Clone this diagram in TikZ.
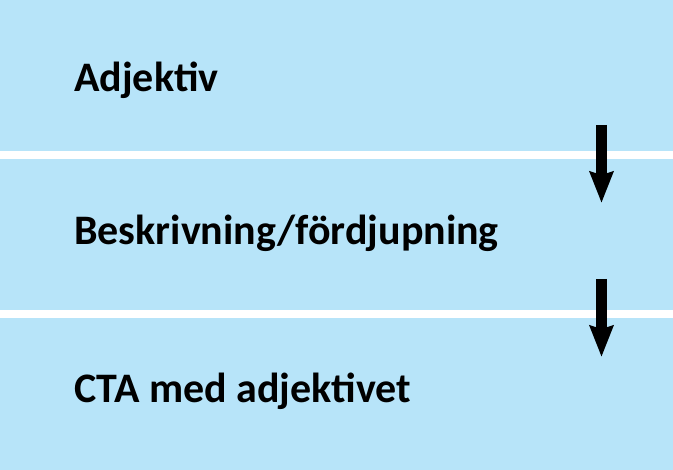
\documentclass[tikz,border=0pt]{standalone}
\usepackage{fontspec}
\setmainfont{Carlito}
\usetikzlibrary{arrows.meta}
\definecolor{bandblue}{RGB}{183,228,249}
\tikzset{
  band/.style={fill=bandblue, draw=none, minimum width=673pt, minimum height=#1, anchor=north west, inner sep=0pt},
  title/.style={anchor=base west, inner sep=0pt, font=\bfseries\fontsize{42}{50}\selectfont},
  flow/.style={line width=11pt, -{Stealth[length=31pt,width=23pt,inset=3pt]}}
}
\begin{document}
\begin{tikzpicture}[x=1pt,y=-1pt]
  \useasboundingbox (0,0) rectangle (673,470);
  \fill[white] (0,0) rectangle (673,470);
  % the three bands
  \node[band=151pt] (B1) at (0,0) {};
  \node[band=151pt] (B2) at (0,159) {};
  \node[band=152pt] (B3) at (0,318) {};
  \node[title] (T1) at (74,92) {Adjektiv};
  \node[title] (T2) at (74,245) {Beskrivning/fördjupning};
  \node[title] (T3) at (74,403) {CTA med adjektivet};
  % arrows across the gaps
  \coordinate (S1) at (601.5,125);
  \coordinate (E1) at (601.5,203);
  \coordinate (S2) at (601.5,279);
  \coordinate (E2) at (601.5,357);
  \draw[flow] (S1) -- (E1);
  \draw[flow] (S2) -- (E2);
\end{tikzpicture}
\end{document}
